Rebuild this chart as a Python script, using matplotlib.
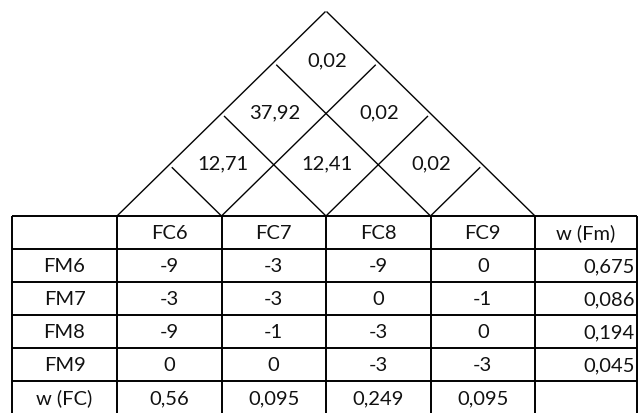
"""House of quality style table: relation matrix with correlation roof."""

import matplotlib.pyplot as plt

# data
col_labels = ['FC6', 'FC7', 'FC8', 'FC9']
row_labels = ['FM6', 'FM7', 'FM8', 'FM9']
relations = [
    ['-9', '-3', '-9', '0'],
    ['-3', '-3', '0', '-1'],
    ['-9', '-1', '-3', '0'],
    ['0', '0', '-3', '-3'],
]
w_fm = ['0,675', '0,086', '0,194', '0,045']
w_fc = ['0,56', '0,095', '0,249', '0,095']
# correlation roof: (column i, column j, value)
roof = [
    (0, 1, '12,71'), (1, 2, '12,41'), (2, 3, '0,02'),
    (0, 2, '37,92'), (1, 3, '0,02'),
    (0, 3, '0,02'),
]

# layout (pixels)
W, H = 639, 413
left = 12
col_w = [105, 104.5, 104.5, 104.5, 104.5, 102]
top = 216
row_h = 33
roof_h = 205

fig = plt.figure(figsize=(W / 100, H / 100), dpi=100)
ax = fig.add_axes([0, 0, 1, 1])
ax.set_xlim(0, W)
ax.set_ylim(H, 0)
ax.axis('off')

font = dict(family='Lato', fontsize=14.5, color='#111111')

xs = [left]
for w in col_w:
    xs.append(xs[-1] + w)
n_rows = len(row_labels) + 2
ys = [top + i * row_h for i in range(n_rows + 1)]

# table grid
for x in xs:
    ax.plot([x, x], [ys[0], ys[-1] + 2], color='black', lw=1.4, solid_capstyle='butt')
for y in ys:
    ax.plot([xs[0], xs[-1]], [y, y], color='black', lw=1.4, solid_capstyle='butt')

def cx(c):
    return (xs[c] + xs[c + 1]) / 2

def cy(r):
    return (ys[r] + ys[r + 1]) / 2 + 1

# header row
for j, lab in enumerate(col_labels):
    ax.text(cx(j + 1), cy(0), lab, ha='center', va='center', **font)
ax.text(cx(5), cy(0), 'w (Fm)', ha='center', va='center', **font)

# body
for i, lab in enumerate(row_labels):
    ax.text(cx(0), cy(i + 1), lab, ha='center', va='center', **font)
    for j, v in enumerate(relations[i]):
        ax.text(cx(j + 1), cy(i + 1), v, ha='center', va='center', **font)
    ax.text(xs[6] - 2, cy(i + 1), w_fm[i], ha='right', va='center', **font)

ax.text(cx(0), cy(5), 'w (FC)', ha='center', va='center', **font)
for j, v in enumerate(w_fc):
    ax.text(cx(j + 1), cy(5), v, ha='center', va='center', **font)

# roof
bx = xs[1:6]  # base points of FC columns
x0, x1 = bx[0], bx[-1]
half = (x1 - x0) / 2
slope = roof_h / half

def edge_y(x):
    return top - slope * min(x - x0, x1 - x)

apex = (x0 + half, top - roof_h)
ax.plot([x0, apex[0] - 1], [top, apex[1] + 1], color='black', lw=1.0)
ax.plot([apex[0] + 1, x1], [apex[1] + 1, top], color='black', lw=1.0)
for b in bx[1:-1]:
    # up-left to the left edge
    xl = (x0 + b) / 2
    ax.plot([b, xl + 3], [top, edge_y(xl) + 3 * slope], color='black', lw=1.0)
    # up-right to the right edge
    xr = (b + x1) / 2
    ax.plot([b, xr - 3], [top, edge_y(xr) + 3 * slope], color='black', lw=1.0)

for i, j, v in roof:
    px = (bx[i + 1] + bx[j]) / 2
    py = top - slope * (bx[j] - bx[i + 1]) / 2 - slope * (bx[1] - bx[0]) / 2
    ax.text(px + 1, py - 1, v, ha='center', va='center', **font)

fig.savefig('out.png', dpi=100)
